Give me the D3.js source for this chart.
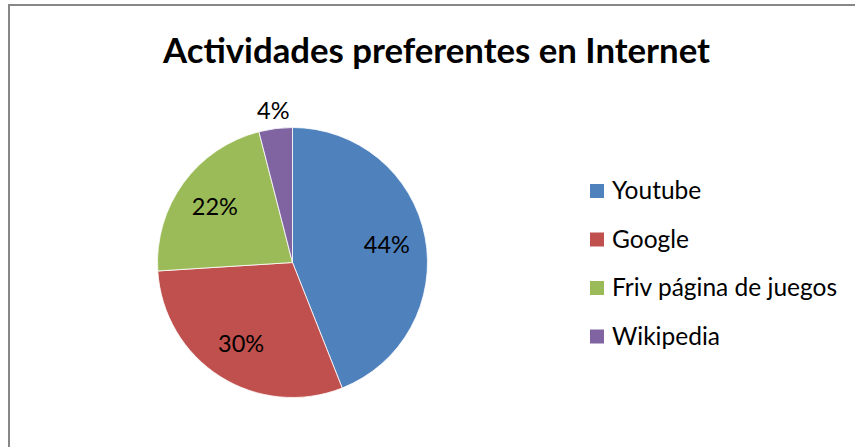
<!DOCTYPE html>
<html>
<head>
<meta charset="utf-8">
<script src="https://cdn.jsdelivr.net/npm/d3@7"></script>
<style>
  html, body { margin: 0; padding: 0; background: #fff; }
  svg { display: block; }
</style>
</head>
<body>
<script>
const title = "Actividades preferentes en Internet";
const categories = ["Youtube", "Google", "Friv página de juegos", "Wikipedia"];
const values = [44, 30, 22, 4];
const colors = ["#4F81BD", "#C0504D", "#9BBB59", "#8064A2"];

const W = 855, H = 447;
const svg = d3.select("body").append("svg").attr("width", W).attr("height", H);

// chart frame
svg.append("rect")
  .attr("x", 9).attr("y", 5).attr("width", 880).attr("height", 470)
  .attr("fill", "#fff").attr("stroke", "#878787").attr("stroke-width", 2);

// title
const t = svg.append("text")
  .attr("x", 436.5).attr("y", 63)
  .attr("text-anchor", "middle")
  .attr("font-family", "Lato, 'Open Sans', sans-serif")
  .attr("font-weight", "bold")
  .attr("font-size", 34)
  .attr("fill", "#000")
  .text(title);
const tw = t.node().getComputedTextLength();
const targetW = 547;
t.attr("font-size", 34 * targetW / tw);

// pie
const cx = 292.5, cy = 262.5, R = 135;
const g = svg.append("g").attr("transform", `translate(${cx},${cy})`);
const pie = d3.pie().sort(null).value(d => d)(values);
const arc = d3.arc().innerRadius(0).outerRadius(R);

g.selectAll("path.slice").data(pie).join("path")
  .attr("class", "slice")
  .attr("d", arc)
  .attr("fill", (d, i) => colors[i])
  .attr("stroke", "#fff")
  .attr("stroke-width", 0.8);

const fmt = d => d3.format(".0%")(d.value / d3.sum(values));
const inArc = d3.arc().innerRadius(96 * 2).outerRadius(0);
const outArc = d3.arc().innerRadius(153 * 2).outerRadius(0);

g.selectAll("text.lbl").data(pie).join("text")
  .attr("class", "lbl")
  .attr("transform", d => {
    const small = (d.endAngle - d.startAngle) < 0.4;
    const c = (small ? outArc : inArc).centroid(d);
    return `translate(${c[0]},${c[1]})`;
  })
  .attr("text-anchor", "middle")
  .attr("dy", "0.36em")
  .attr("font-family", "Lato, 'Open Sans', sans-serif")
  .attr("font-size", 23.5)
  .attr("fill", "#000")
  .text(fmt);

// legend
const lg = svg.append("g").attr("transform", "translate(590,184)");
const rowH = 48.5;
const items = lg.selectAll("g.item").data(categories).join("g")
  .attr("class", "item")
  .attr("transform", (d, i) => `translate(0,${i * rowH})`);
items.append("rect")
  .attr("x", 0).attr("y", 0).attr("width", 14).attr("height", 14)
  .attr("fill", (d, i) => colors[i]);
items.append("text")
  .attr("x", 22).attr("y", 15)
  .attr("font-family", "Lato, 'Open Sans', sans-serif")
  .attr("font-size", 24.5)
  .attr("fill", "#000")
  .text(d => d);
</script>
</body>
</html>
